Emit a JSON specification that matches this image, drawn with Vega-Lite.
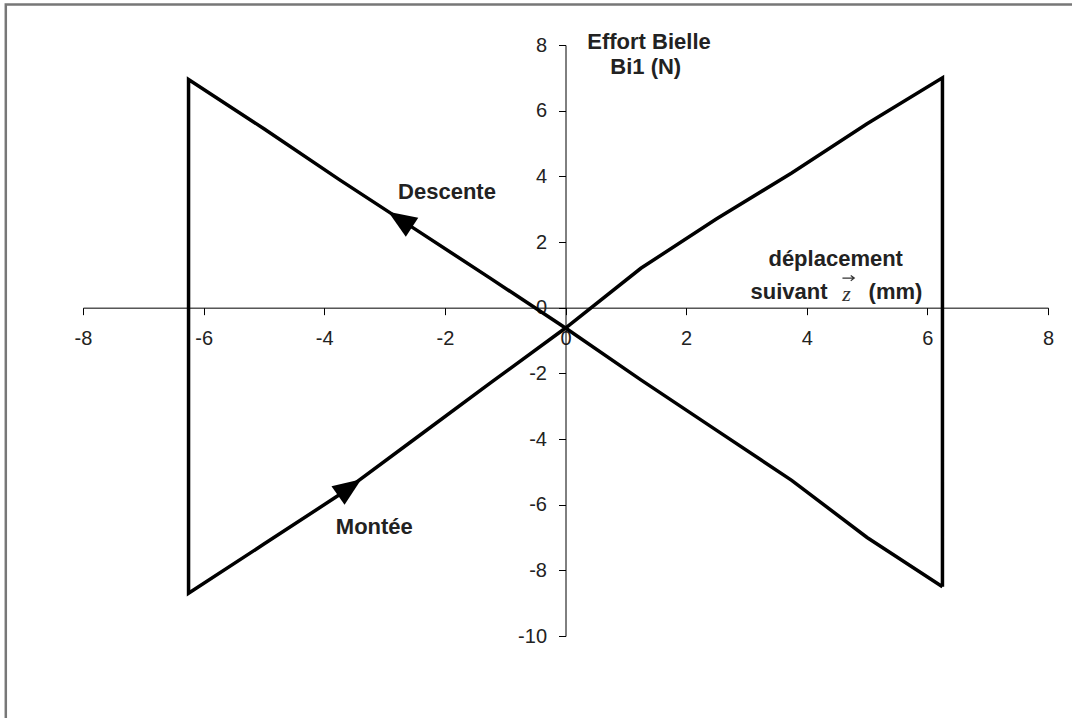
{
  "$schema": "https://vega.github.io/schema/vega-lite/v6.json",
  "autosize": "none",
  "width": 965,
  "height": 591,
  "padding": {"left": 83, "top": 45, "right": 24, "bottom": 82},
  "background": "white",
  "config": {
    "view": {"stroke": null},
    "font": "Liberation Sans"
  },
  "datasets": {
    "cycle": [
      {"ordre": 1, "deplacement": 6.25, "effort": -8.5},
      {"ordre": 2, "deplacement": 5.0, "effort": -7.0},
      {"ordre": 3, "deplacement": 3.75, "effort": -5.26},
      {"ordre": 4, "deplacement": 2.5, "effort": -3.73},
      {"ordre": 5, "deplacement": 1.25, "effort": -2.2},
      {"ordre": 6, "deplacement": 0.0, "effort": -0.62},
      {"ordre": 7, "deplacement": -1.25, "effort": 0.9},
      {"ordre": 8, "deplacement": -2.5, "effort": 2.4},
      {"ordre": 9, "deplacement": -3.75, "effort": 3.9},
      {"ordre": 10, "deplacement": -5.0, "effort": 5.45},
      {"ordre": 11, "deplacement": -6.25, "effort": 6.95},
      {"ordre": 12, "deplacement": -6.25, "effort": -8.7},
      {"ordre": 13, "deplacement": -5.0, "effort": -7.2},
      {"ordre": 14, "deplacement": -3.75, "effort": -5.7},
      {"ordre": 15, "deplacement": -2.5, "effort": -4.0},
      {"ordre": 16, "deplacement": -1.25, "effort": -2.3},
      {"ordre": 17, "deplacement": 0.0, "effort": -0.62},
      {"ordre": 18, "deplacement": 1.25, "effort": 1.2},
      {"ordre": 19, "deplacement": 2.5, "effort": 2.7},
      {"ordre": 20, "deplacement": 3.75, "effort": 4.1},
      {"ordre": 21, "deplacement": 5.0, "effort": 5.6},
      {"ordre": 22, "deplacement": 6.25, "effort": 7.0},
      {"ordre": 23, "deplacement": 6.25, "effort": -8.5}
    ]
  },
  "encoding": {
    "x": {"type": "quantitative", "scale": {"domain": [-8, 8], "nice": false, "zero": false}},
    "y": {"type": "quantitative", "scale": {"domain": [-10, 8], "nice": false, "zero": false}}
  },
  "layer": [
    {
      "description": "Cadre de la zone de graphique",
      "data": {"values": [{"x0": -9.28, "x1": 9.6, "y0": 9.23, "y1": -13}]},
      "mark": {"type": "rect", "fill": null, "stroke": "#777777", "strokeWidth": 2.5},
      "encoding": {
        "x": {"field": "x0", "type": "quantitative", "axis": {
          "orient": "bottom", "offset": -328.33, "values": [-8, -6, -4, -2, 0, 2, 4, 6, 8],
          "labelExpr": "'' + datum.value",
          "title": null, "grid": false, "tickSize": 7, "tickColor": "#000", "domainColor": "#000",
          "domainWidth": 1, "tickWidth": 1, "labelPadding": 14, "labelFontSize": 20,
          "labelColor": "#222", "labelFont": "Liberation Sans", "labelOverlap": false, "labelFlush": false, "labelBound": false
        }},
        "x2": {"field": "x1"},
        "y": {"field": "y0", "type": "quantitative", "axis": {
          "orient": "left", "offset": -482.5, "values": [-10, -8, -6, -4, -2, 0, 2, 4, 6, 8],
          "labelExpr": "'' + datum.value",
          "title": null, "grid": false, "tickSize": 7, "tickColor": "#000", "domainColor": "#000",
          "domainWidth": 1, "tickWidth": 1, "labelPadding": 12, "labelFontSize": 20,
          "labelColor": "#222", "labelFont": "Liberation Sans", "labelOverlap": false, "labelFlush": false, "labelBound": false
        }},
        "y2": {"field": "y1"}
      }
    },
    {
      "data": {"name": "cycle"},
      "mark": {"type": "line", "color": "#000", "strokeWidth": 3.5, "strokeJoin": "miter"},
      "encoding": {
        "x": {"field": "deplacement"},
        "y": {"field": "effort"},
        "order": {"field": "ordre"}
      }
    },
    {
      "description": "Flèches de sens de parcours",
      "data": {"values": [
        {"deplacement": -2.72, "effort": 2.66, "sens": 303.2},
        {"deplacement": -3.6, "effort": -5.5, "sens": 55}
      ]},
      "mark": {"type": "point", "shape": "M0,-1L0.72,0.8L-0.72,0.8Z", "filled": true, "color": "#000", "size": 1000, "opacity": 1, "strokeWidth": 0},
      "encoding": {
        "x": {"field": "deplacement"},
        "y": {"field": "effort"},
        "angle": {"field": "sens", "type": "quantitative", "scale": null}
      }
    },
    {
      "description": "Titres et annotations en gras",
      "data": {"values": [
        {"deplacement": 1.385, "effort": 8.1, "texte": "Effort Bielle"},
        {"deplacement": 1.33, "effort": 7.33, "texte": "Bi1 (N)"},
        {"deplacement": -1.965, "effort": 3.52, "texte": "Descente"},
        {"deplacement": -3.17, "effort": -6.69, "texte": "Montée"},
        {"deplacement": 4.48, "effort": 1.48, "texte": "déplacement"}
      ]},
      "mark": {"type": "text", "font": "Liberation Sans", "fontWeight": "bold", "fontSize": 22, "color": "#222", "baseline": "middle", "align": "center"},
      "encoding": {
        "x": {"field": "deplacement"},
        "y": {"field": "effort"},
        "text": {"field": "texte"}
      }
    },
    {
      "data": {"values": [{"deplacement": 4.345, "effort": 0.47, "texte": "suivant"}]},
      "mark": {"type": "text", "font": "Liberation Sans", "fontWeight": "bold", "fontSize": 22, "color": "#222", "baseline": "middle", "align": "right"},
      "encoding": {"x": {"field": "deplacement"}, "y": {"field": "effort"}, "text": {"field": "texte"}}
    },
    {
      "data": {"values": [{"deplacement": 5.025, "effort": 0.47, "texte": "(mm)"}]},
      "mark": {"type": "text", "font": "Liberation Sans", "fontWeight": "bold", "fontSize": 22, "color": "#222", "baseline": "middle", "align": "left"},
      "encoding": {"x": {"field": "deplacement"}, "y": {"field": "effort"}, "text": {"field": "texte"}}
    },
    {
      "description": "Lettre z du vecteur",
      "data": {"values": [{"deplacement": 4.66, "effort": 0.42, "texte": "z"}]},
      "mark": {"type": "text", "font": "Liberation Serif", "fontStyle": "italic", "fontSize": 22, "color": "#333", "baseline": "middle", "align": "center"},
      "encoding": {"x": {"field": "deplacement"}, "y": {"field": "effort"}, "text": {"field": "texte"}}
    },
    {
      "description": "Flèche au-dessus du z",
      "data": {"values": [{"deplacement": 4.69, "effort": 0.9}]},
      "mark": {"type": "point", "shape": "M-1,0L1,0M0.4,-0.45L1,0L0.4,0.45", "filled": false, "stroke": "#333", "strokeWidth": 1.2, "size": 140, "opacity": 1},
      "encoding": {"x": {"field": "deplacement"}, "y": {"field": "effort"}}
    }
  ]
}
